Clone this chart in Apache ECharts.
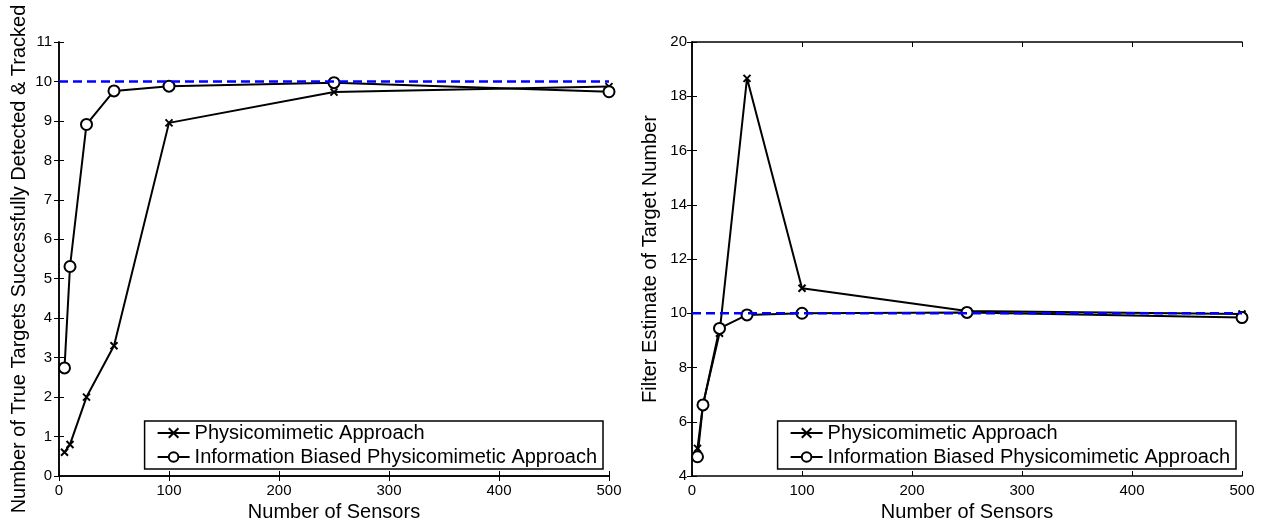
<!DOCTYPE html>
<html>
<head>
<meta charset="utf-8">
<script src="https://cdn.jsdelivr.net/npm/echarts@6/dist/echarts.min.js"></script>
<style>
  html, body { margin: 0; padding: 0; background: #fff; }
  #main { width: 1265px; height: 521px; }
</style>
</head>
<body>
<div id="main"></div>
<script>
// sensor counts shared by both panels
var sensors = [5, 10, 25, 50, 100, 250, 500];

// left panel: true targets detected & tracked
var leftPhysico = [0.6, 0.8, 2.0, 3.3, 8.95, 9.73, 9.87];
var leftInfo = [2.74, 5.31, 8.91, 9.76, 9.88, 9.97, 9.74];

// right panel: filter estimate of target number
var rightPhysico = [5.02, 6.64, 9.26, 18.66, 10.92, 10.08, 9.97];
var rightInfo = [4.71, 6.62, 9.44, 9.94, 10.0, 10.03, 9.84];

var trueCount = 10;
var xTicks = [0, 100, 200, 300, 400, 500];

var seriesNames = ['Physicomimetic Approach', 'Information Biased Physicomimetic Approach'];
var leftTitle = 'Number of True Targets Successfully Detected & Tracked';
var rightTitle = 'Filter Estimate of Target Number';
var xTitle = 'Number of Sensors';

var font = 'Liberation Sans, Arial, Helvetica, sans-serif';
var crossPath = 'path://M0,0L10,10M10,0L0,10';

function pairs(ys) {
    var out = [];
    for (var i = 0; i < sensors.length; i++) {
        out.push([sensors[i], ys[i]]);
    }
    return out;
}

function xAxisPair(grid) {
    return [
        {
            gridIndex: grid, type: 'value', min: xTicks[0], max: xTicks[xTicks.length - 1], interval: 100,
            name: xTitle, nameLocation: 'middle', nameGap: 26,
            nameTextStyle: { fontFamily: font, fontSize: 20, color: '#000' },
            axisLine: { lineStyle: { color: '#000', width: 1.5 } },
            axisTick: { inside: true, length: 5, lineStyle: { color: '#000' } },
            axisLabel: { fontFamily: font, fontSize: 15, color: '#000', margin: 7 },
            splitLine: { show: false }
        },
        {
            gridIndex: grid, type: 'value', position: 'top', min: 0, max: 500, interval: 100,
            axisLine: { lineStyle: { color: '#000', width: 1.5 } },
            axisTick: { inside: true, length: 5, lineStyle: { color: '#000' } },
            axisLabel: { show: false },
            splitLine: { show: false }
        }
    ];
}

function yAxisPair(grid, min, max, step, title, gap, margin) {
    return [
        {
            gridIndex: grid, type: 'value', min: min, max: max, interval: step,
            name: title, nameLocation: 'middle', nameGap: gap,
            nameTextStyle: { fontFamily: font, fontSize: 20, color: '#000' },
            axisLine: { show: true, lineStyle: { color: '#000', width: 1.5 } },
            axisTick: { show: true, inside: true, length: 5, lineStyle: { color: '#000' } },
            axisLabel: { fontFamily: font, fontSize: 15, color: '#000', margin: margin },
            splitLine: { show: false }
        },
        {
            gridIndex: grid, type: 'value', position: 'right', min: min, max: max, interval: step,
            axisLine: { show: true, lineStyle: { color: '#000', width: 1.5 } },
            axisTick: { show: true, inside: true, length: 5, lineStyle: { color: '#000' } },
            axisLabel: { show: false },
            splitLine: { show: false }
        }
    ];
}

function panelSeries(xi, yi, physico, info) {
    return [
        {
            name: seriesNames[0], type: 'line', xAxisIndex: xi, yAxisIndex: yi,
            data: pairs(physico), symbol: crossPath, symbolSize: 7,
            lineStyle: { color: '#000', width: 2 },
            itemStyle: { color: 'rgba(0,0,0,0)', borderColor: '#000', borderWidth: 2 },
            animation: false
        },
        {
            name: seriesNames[1], type: 'line', xAxisIndex: xi, yAxisIndex: yi,
            data: pairs(info), symbol: 'emptyCircle', symbolSize: 11,
            lineStyle: { color: '#000', width: 2 },
            itemStyle: { color: '#000', borderColor: '#000', borderWidth: 2 },
            animation: false
        },
        {
            name: 'target', type: 'line', xAxisIndex: xi, yAxisIndex: yi,
            data: [[0, trueCount], [500, trueCount]], symbol: 'none',
            lineStyle: { color: '#0000ff', width: 2.5, type: [9, 5] },
            silent: true, animation: false, z: 5
        }
    ];
}

function legendAt(right) {
    return {
        orient: 'vertical', right: right, bottom: 52,
        data: seriesNames,
        itemWidth: 32, itemHeight: 12, itemGap: 4,
        padding: [2, 6, 2, 12],
        borderColor: '#000', borderWidth: 1.5, borderRadius: 0,
        backgroundColor: '#fff',
        textStyle: { fontFamily: font, fontSize: 20, color: '#000' },
        selectedMode: false
    };
}

var dom = document.getElementById('main');
var myChart = echarts.init(dom, null, { renderer: 'canvas' });
var option = {
    backgroundColor: '#fff',
    animation: false,
    grid: [
        { left: 59, top: 42, width: 550, height: 434, outerBoundsMode: 'none', containLabel: false },
        { left: 692, top: 42, width: 550, height: 434, outerBoundsMode: 'none', containLabel: false }
    ],
    xAxis: xAxisPair(0).concat(xAxisPair(1)),
    yAxis: yAxisPair(0, 0, 11, 1, leftTitle, 30, 7).concat(yAxisPair(1, 4, 20, 2, rightTitle, 32, 5)),
    legend: [legendAt(1265 - 603), legendAt(1265 - 1236)],
    series: panelSeries(0, 0, leftPhysico, leftInfo).concat(panelSeries(2, 2, rightPhysico, rightInfo))
};
myChart.setOption(option, true);
</script>
</body>
</html>
